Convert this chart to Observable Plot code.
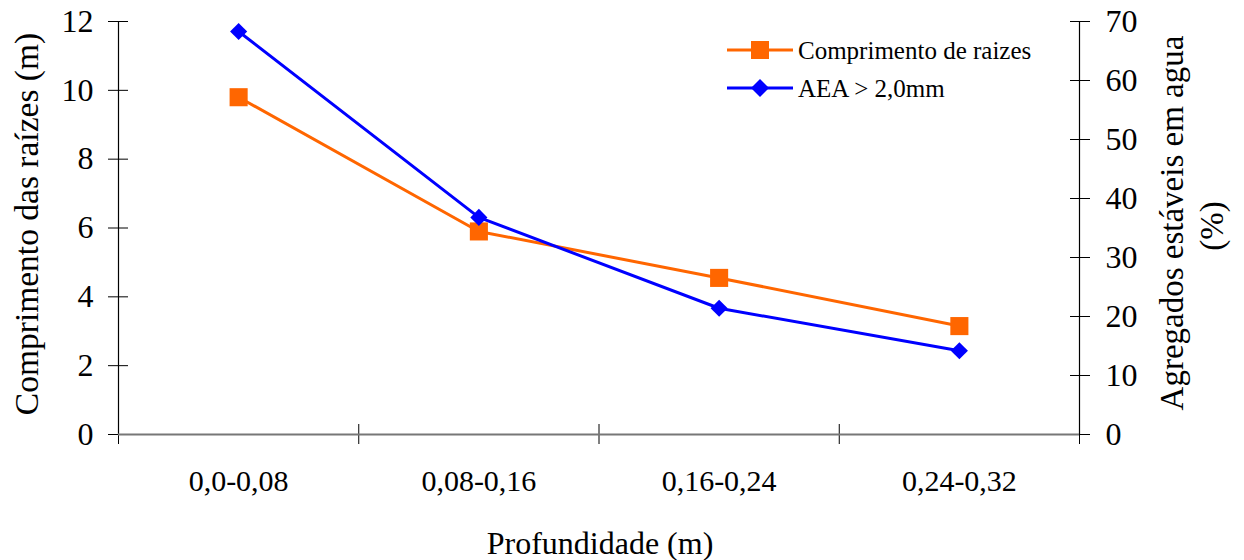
<!DOCTYPE html>
<html><head><meta charset="utf-8">
<script src="https://cdn.jsdelivr.net/npm/d3@7"></script>
<script src="https://cdn.jsdelivr.net/npm/@observablehq/plot@0.6"></script>
<style>
body{margin:0;background:#fff;font-family:"Liberation Serif","Times New Roman",serif;color:#000;}
#wrap{position:relative;width:1244px;height:560px;overflow:hidden;}
#wrap svg text{font-family:"Liberation Serif","Times New Roman",serif !important;}
.t{position:absolute;white-space:nowrap;transform:translate(-50%,-50%);line-height:1;font-family:"Liberation Serif","Times New Roman",serif;}
.r{transform:translate(-50%,-50%) rotate(-90deg);}
.leg{position:absolute;left:727px;font-size:25px;line-height:1;font-family:"Liberation Serif","Times New Roman",serif;}
.leg div{display:flex;align-items:center;height:38px;}
.leg svg{margin-right:5px;}
</style>
</head><body>
<div id="wrap"></div>
<script>
const categories = ["0,0-0,08", "0,08-0,16", "0,16-0,24", "0,24-0,32"];
const rootLength = [9.8, 5.9, 4.55, 3.15];
const aeaPercent = [68.3, 36.8, 21.4, 14.2];
const leftTicks = [0, 2, 4, 6, 8, 10, 12];
const rightTicks = [0, 10, 20, 30, 40, 50, 60, 70];
const seriesNames = ["Comprimento de raizes", "AEA > 2,0mm"];
const seriesColors = ["#FF6600", "#0000FF"];

const k = 12 / 70; // right axis (0–70) mapped onto left axis (0–12)
const rows = categories.map((c, i) => ({pos: i + 0.5, c, root: rootLength[i], aea: aeaPercent[i] * k}));
const bounds = d3.range(categories.length + 1);

const plot = Plot.plot({
  width: 1244, height: 560,
  marginLeft: 118, marginRight: 165, marginTop: 21, marginBottom: 126,
  style: {fontFamily: "'Liberation Serif', 'Times New Roman', serif", fontSize: "31px", color: "#000", background: "#fff"},
  x: {type: "linear", domain: [0, categories.length]},
  y: {domain: [0, 12]},
  marks: [
    Plot.ruleX([0, categories.length], {stroke: "#000", strokeWidth: 1.2}),
    Plot.axisY({ticks: leftTicks, tickSize: 10, tickPadding: 15, label: null, fontSize: 32, tickFormat: d => String(d)}),
    Plot.axisY({ticks: leftTicks, tickSize: -10, label: null, tickFormat: () => ""}),
    Plot.axisY({anchor: "right", ticks: rightTicks.map(v => v * k), tickSize: 10, tickPadding: 16, label: null, fontSize: 32, tickFormat: v => String(Math.round(v / k))}),
    Plot.axisY({anchor: "right", ticks: rightTicks.map(v => v * k), tickSize: -10, label: null, tickFormat: () => ""}),
    Plot.axisX({ticks: bounds, tickSize: 10, label: null, tickFormat: () => ""}),
    Plot.axisX({ticks: bounds, tickSize: -10, label: null, tickFormat: () => ""}),
    Plot.axisX({ticks: rows.map(d => d.pos), tickSize: 0, tickPadding: 35, label: null, fontSize: 30, tickFormat: p => categories[Math.floor(p)]}),
    Plot.ruleY([0], {stroke: "#777", strokeWidth: 2}),
    Plot.line(rows, {x: "pos", y: "root", stroke: seriesColors[0], strokeWidth: 3}),
    Plot.line(rows, {x: "pos", y: "aea", stroke: seriesColors[1], strokeWidth: 3}),
    Plot.dot(rows, {x: "pos", y: "root", symbol: "square", r: 10.2, fill: seriesColors[0], stroke: null}),
    Plot.dot(rows, {x: "pos", y: "aea", symbol: "diamond2", r: 7.7, fill: seriesColors[1], stroke: null})
  ]
});

const wrap = document.getElementById("wrap");
wrap.appendChild(plot);

function addText(txt, x, y, size, rot) {
  const d = document.createElement("div");
  d.className = "t" + (rot ? " r" : "");
  d.style.left = x + "px"; d.style.top = y + "px"; d.style.fontSize = size + "px";
  d.textContent = txt;
  wrap.appendChild(d);
}
addText("Comprimento das raízes (m)", 27, 224, 33.5, true);
addText("Agregados estáveis em agua", 1172, 223, 33, true);
addText("(%)", 1212, 226, 33, true);
addText("Profundidade (m)", 600, 543, 32, false);

const leg = document.createElement("div");
leg.className = "leg"; leg.style.top = "31px";
seriesNames.forEach((name, i) => {
  const row = document.createElement("div");
  const marker = i === 0
    ? `<rect x="24" y="10" width="18" height="18" fill="${seriesColors[i]}"/>`
    : `<path d="M33,10 L42,19 L33,28 L24,19 Z" fill="${seriesColors[i]}"/>`;
  row.innerHTML = `<svg width="66" height="38"><line x1="0" x2="66" y1="19" y2="19" stroke="${seriesColors[i]}" stroke-width="3"/>${marker}</svg><span>${name}</span>`;
  leg.appendChild(row);
});
wrap.appendChild(leg);
</script>
</body></html>
